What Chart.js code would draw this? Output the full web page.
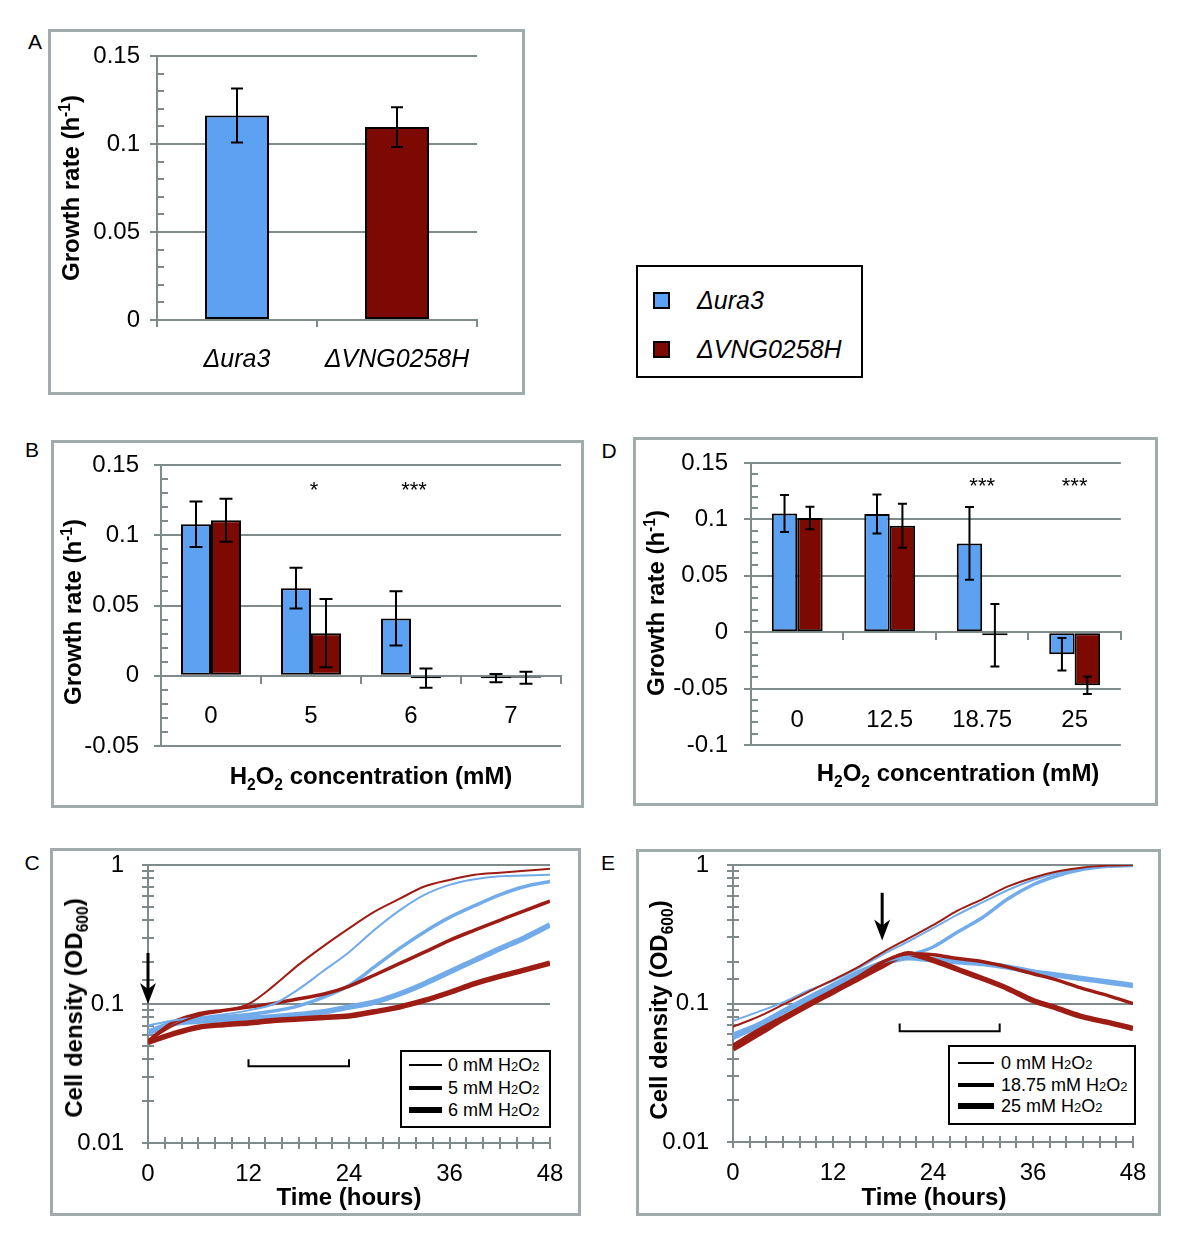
<!DOCTYPE html>
<html lang="en">
<head>
<meta charset="utf-8">
<title>Growth rate under H2O2</title>
<script src="https://cdn.jsdelivr.net/npm/chart.js@4.4.1/dist/chart.umd.min.js"></script>
<style>
  html, body { margin: 0; padding: 0; background: #fff; }
  #fig { position: relative; width: 1200px; height: 1236px; overflow: hidden;
         font-family: "Liberation Sans", Arial, sans-serif; color: #000; }
  .panel { position: absolute; box-sizing: border-box; border: 3px solid #a2abab; }
  #fig canvas { position: absolute; }
  .letter { position: absolute; font-size: 21px; line-height: 1; transform: translate(-50%, -50%); }
  .ytitle, .xtitle { position: absolute; font-weight: bold; font-size: 24px; line-height: 1; white-space: nowrap; }
  .ytitle { transform: translate(-50%, -50%) rotate(-90deg); }
  .xtitle { transform: translate(-50%, -50%); }
  sup, sub { font-size: 0.65em; line-height: 0; }
  .legbox { position: absolute; box-sizing: border-box; border: 2px solid #000; background: #fff; }
  .sw { position: absolute; background: #000; }
  .sq { position: absolute; box-sizing: border-box; border: 2px solid #000; width: 17px; height: 17px; }
  .lt { position: absolute; font-size: 18px; line-height: 1; white-space: nowrap; transform: translateY(-50%); }
  .lt small { font-size: 0.72em; }
  .mt { position: absolute; font-size: 25px; font-style: italic; line-height: 1; white-space: nowrap; transform: translateY(-50%); }
</style>
</head>
<body>
<div id="fig">
  <div class="panel" style="left:48px;top:29px;width:477px;height:366px"></div>
  <div class="panel" style="left:51px;top:440px;width:533px;height:368px"></div>
  <div class="panel" style="left:633px;top:437px;width:525px;height:369px"></div>
  <div class="panel" style="left:50px;top:848px;width:531px;height:368px"></div>
  <div class="panel" style="left:636px;top:849px;width:525px;height:367px"></div>

  <!-- canvases start 20px above their panels so the top tick label has room -->
  <canvas id="chartA" width="477" height="386" style="left:48px;top:9px"></canvas>
  <canvas id="chartB" width="533" height="388" style="left:51px;top:420px"></canvas>
  <canvas id="chartD" width="525" height="389" style="left:633px;top:417px"></canvas>
  <canvas id="chartC" width="531" height="388" style="left:50px;top:828px"></canvas>
  <canvas id="chartE" width="525" height="387" style="left:636px;top:829px"></canvas>

  <div class="letter" style="left:35px;top:41px">A</div>
  <div class="letter" style="left:32px;top:449px">B</div>
  <div class="letter" style="left:609px;top:450px">D</div>
  <div class="letter" style="left:32px;top:862px">C</div>
  <div class="letter" style="left:608px;top:862px">E</div>

  <div class="ytitle" style="left:71px;top:188px">Growth rate (h<sup>-1</sup>)</div>
  <div class="ytitle" style="left:73px;top:612px">Growth rate (h<sup>-1</sup>)</div>
  <div class="ytitle" style="left:656px;top:603px">Growth rate (h<sup>-1</sup>)</div>
  <div class="ytitle" style="left:74px;top:1008px">Cell density (OD<sub>600</sub>)</div>
  <div class="ytitle" style="left:659px;top:1010px">Cell density (OD<sub>600</sub>)</div>

  <div class="xtitle" style="left:371px;top:776px">H<sub>2</sub>O<sub>2</sub> concentration (mM)</div>
  <div class="xtitle" style="left:958px;top:773px">H<sub>2</sub>O<sub>2</sub> concentration (mM)</div>
  <div class="xtitle" style="left:349px;top:1197px">Time (hours)</div>
  <div class="xtitle" style="left:934px;top:1197px">Time (hours)</div>

  <!-- strain legend -->
  <div class="legbox" style="left:636px;top:265px;width:227px;height:113px"></div>
  <div class="sq" style="left:653px;top:292px;background:#5da1f3"></div>
  <div class="sq" style="left:653px;top:341px;background:#7d0a02"></div>
  <div class="mt" style="left:697px;top:300px">Δura3</div>
  <div class="mt" style="left:697px;top:349px">ΔVNG0258H</div>

  <!-- line width legends -->
  <div class="legbox" style="left:400px;top:1050px;width:151px;height:78px"></div>
  <div class="sw" style="left:409px;top:1064px;width:33px;height:2px"></div>
  <div class="sw" style="left:409px;top:1086px;width:33px;height:4px"></div>
  <div class="sw" style="left:409px;top:1107px;width:33px;height:6px"></div>
  <div class="lt" style="left:448px;top:1065px">0 mM H<small>2</small>O<small>2</small></div>
  <div class="lt" style="left:448px;top:1088px">5 mM H<small>2</small>O<small>2</small></div>
  <div class="lt" style="left:448px;top:1110px">6 mM H<small>2</small>O<small>2</small></div>

  <div class="legbox" style="left:948px;top:1045px;width:188px;height:80px"></div>
  <div class="sw" style="left:958px;top:1062px;width:36px;height:2px"></div>
  <div class="sw" style="left:958px;top:1083px;width:36px;height:4px"></div>
  <div class="sw" style="left:958px;top:1103px;width:36px;height:6px"></div>
  <div class="lt" style="left:1001px;top:1063px">0 mM H<small>2</small>O<small>2</small></div>
  <div class="lt" style="left:1001px;top:1085px">18.75 mM H<small>2</small>O<small>2</small></div>
  <div class="lt" style="left:1001px;top:1106px">25 mM H<small>2</small>O<small>2</small></div>
</div>

<script>
// panel A: growth rate without stress
const strainNames = ["Δura3", "ΔVNG0258H"];
const rateA = [0.1162, 0.1096];
const errA = [0.0153, 0.0113];

// panel B: growth rate vs H2O2 (mM)
const concB = ["0", "5", "6", "7"];
const ura3B = [0.1078, 0.0623, 0.0408, -0.0017];
const ura3ErrB = [0.0162, 0.0145, 0.0193, 0.0030];
const vngB = [0.1107, 0.0303, -0.0017, -0.0014];
const vngErrB = [0.0153, 0.0243, 0.0069, 0.0043];
const sigB = ["", "*", "***", ""];

// panel D
const concD = ["0", "12.5", "18.75", "25"];
const ura3D = [0.1053, 0.1047, 0.0787, -0.0195];
const ura3ErrD = [0.0164, 0.0173, 0.0322, 0.0144];
const vngD = [0.1012, 0.0944, -0.0027, -0.0470];
const vngErrD = [0.0100, 0.0195, 0.0276, 0.0078];
const sigD = ["", "", "***", "***"];

// panels C and E: OD600 every 3 h
const hours = [0, 3, 6, 9, 12, 15, 18, 21, 24, 27, 30, 33, 36, 39, 42, 45, 48];

const ura3C0 = [0.070, 0.076, 0.080, 0.084, 0.090, 0.100, 0.128, 0.174, 0.236, 0.34, 0.47, 0.61, 0.72, 0.79, 0.83, 0.84, 0.85];
const ura3C5 = [0.064, 0.074, 0.078, 0.081, 0.084, 0.089, 0.097, 0.112, 0.136, 0.184, 0.25, 0.33, 0.42, 0.51, 0.61, 0.70, 0.76];
const ura3C6 = [0.062, 0.072, 0.075, 0.077, 0.079, 0.081, 0.084, 0.088, 0.095, 0.103, 0.118, 0.14, 0.17, 0.206, 0.25, 0.30, 0.37];
const vngC0 = [0.054, 0.070, 0.082, 0.089, 0.100, 0.135, 0.192, 0.262, 0.35, 0.46, 0.57, 0.70, 0.78, 0.85, 0.88, 0.91, 0.94];
const vngC5 = [0.054, 0.074, 0.085, 0.090, 0.095, 0.101, 0.109, 0.118, 0.134, 0.161, 0.195, 0.236, 0.287, 0.34, 0.40, 0.47, 0.55];
const vngC6 = [0.053, 0.061, 0.068, 0.071, 0.073, 0.076, 0.078, 0.080, 0.082, 0.088, 0.095, 0.106, 0.121, 0.14, 0.158, 0.176, 0.197];

const ura3E0 = [0.075, 0.087, 0.102, 0.124, 0.146, 0.179, 0.226, 0.28, 0.35, 0.44, 0.54, 0.66, 0.78, 0.88, 0.94, 0.98, 0.99];
const ura3E18 = [0.060, 0.071, 0.089, 0.111, 0.137, 0.169, 0.200, 0.222, 0.256, 0.33, 0.42, 0.57, 0.72, 0.84, 0.93, 0.98, 0.99];
const ura3E25 = [0.057, 0.069, 0.087, 0.108, 0.133, 0.164, 0.194, 0.214, 0.207, 0.200, 0.194, 0.183, 0.169, 0.160, 0.151, 0.143, 0.135];
const vngE0 = [0.068, 0.080, 0.098, 0.121, 0.148, 0.183, 0.235, 0.294, 0.368, 0.47, 0.57, 0.70, 0.81, 0.90, 0.96, 0.99, 1.0];
const vngE18 = [0.050, 0.064, 0.080, 0.100, 0.124, 0.155, 0.200, 0.229, 0.225, 0.211, 0.200, 0.183, 0.164, 0.147, 0.128, 0.114, 0.100];
const vngE25 = [0.047, 0.060, 0.077, 0.097, 0.121, 0.151, 0.188, 0.229, 0.205, 0.176, 0.151, 0.128, 0.105, 0.092, 0.080, 0.073, 0.066];

const GRID = "#7f8b8b";
const BLUE_BAR = "#5da1f3";
const RED_BAR = "#7d0a02";
const BLUE_LINE = "#72abe9";
const RED_LINE = "#9d1d15";
const CLEAR = "rgba(0,0,0,0)";

Chart.defaults.font.family = '"Liberation Sans", Arial, sans-serif';
Chart.defaults.font.size = 24;
Chart.defaults.color = "#000";

function isMajor(v) {
  return Math.round(v * 100) % 5 === 0;
}

function isDecade(v) {
  const l = Math.log10(v);
  return Math.abs(l - Math.round(l)) < 1e-6;
}

function fmt(v) {
  return String(Math.round(v * 100) / 100);
}

const errorBars = {
  id: "errorBars",
  afterDatasetsDraw(chart, args, opts) {
    const ctx = chart.ctx;
    const y = chart.scales.y;
    const half = opts.cap / 2;
    chart.data.datasets.forEach((ds, i) => {
      if (!ds.errors) return;
      chart.getDatasetMeta(i).data.forEach((bar, j) => {
        const top = y.getPixelForValue(ds.data[j] + ds.errors[j]);
        const bot = y.getPixelForValue(ds.data[j] - ds.errors[j]);
        ctx.save();
        ctx.strokeStyle = "#000";
        ctx.lineWidth = 2;
        ctx.beginPath();
        ctx.moveTo(bar.x, top);
        ctx.lineTo(bar.x, bot);
        ctx.moveTo(bar.x - half, top);
        ctx.lineTo(bar.x + half, top);
        ctx.moveTo(bar.x - half, bot);
        ctx.lineTo(bar.x + half, bot);
        ctx.stroke();
        ctx.restore();
      });
    });
  }
};

// tick marks that sit inside the plot area
const innerTicks = {
  id: "innerTicks",
  beforeDatasetsDraw(chart, args, opts) {
    const { ctx, chartArea: a, scales: { x, y } } = chart;
    ctx.save();
    ctx.strokeStyle = GRID;
    ctx.lineWidth = 2;
    ctx.beginPath();
    y.ticks.forEach((t) => {
      if (opts.mode === "minor" && isMajor(t.value)) return;
      const py = Math.round(y.getPixelForValue(t.value));
      ctx.moveTo(a.left, py);
      ctx.lineTo(a.left + opts.len, py);
    });
    if (opts.mode === "all") {
      x.ticks.forEach((t) => {
        const px = Math.round(x.getPixelForValue(t.value));
        ctx.moveTo(px, a.bottom);
        ctx.lineTo(px, a.bottom - opts.len);
      });
    }
    ctx.stroke();
    ctx.restore();
  }
};

const stars = {
  id: "stars",
  afterDatasetsDraw(chart, args, opts) {
    if (!opts.labels) return;
    const { ctx, scales: { x, y } } = chart;
    ctx.save();
    ctx.font = '22px "Liberation Sans", Arial, sans-serif';
    ctx.textAlign = "center";
    ctx.textBaseline = "alphabetic";
    ctx.fillStyle = "#000";
    opts.labels.forEach((s, i) => {
      if (s) ctx.fillText(s, x.getPixelForValue(i) + opts.shift, y.getPixelForValue(opts.level));
    });
    ctx.restore();
  }
};

const marks = {
  id: "marks",
  afterDatasetsDraw(chart, args, opts) {
    const { ctx, scales: { x, y } } = chart;
    ctx.save();
    ctx.strokeStyle = "#000";
    ctx.fillStyle = "#000";
    if (opts.arrow) {
      const ax = x.getPixelForValue(opts.arrow.x);
      const y1 = y.getPixelForValue(opts.arrow.from);
      const y2 = y.getPixelForValue(opts.arrow.to);
      ctx.lineWidth = 3;
      ctx.beginPath();
      ctx.moveTo(ax, y1);
      ctx.lineTo(ax, y2 - 12);
      ctx.stroke();
      ctx.beginPath();
      ctx.moveTo(ax, y2);
      ctx.lineTo(ax - 8, y2 - 21);
      ctx.lineTo(ax, y2 - 15);
      ctx.lineTo(ax + 8, y2 - 21);
      ctx.closePath();
      ctx.fill();
    }
    if (opts.bracket) {
      const b = opts.bracket;
      const x1 = x.getPixelForValue(b.from);
      const x2 = x.getPixelForValue(b.to);
      const yb = y.getPixelForValue(b.level);
      const yt = y.getPixelForValue(b.tip);
      ctx.lineWidth = 2;
      ctx.beginPath();
      ctx.moveTo(x1, yt);
      ctx.lineTo(x1, yb);
      ctx.lineTo(x2, yb);
      ctx.lineTo(x2, yt);
      ctx.stroke();
    }
    ctx.restore();
  }
};

function rateAxis(min, max, width, pad) {
  return {
    min: min,
    max: max,
    afterFit: (s) => { s.width = width; },
    border: { color: GRID, width: 2 },
    grid: {
      color: (c) => (c.tick && isMajor(c.tick.value) ? GRID : CLEAR),
      tickColor: (c) => (c.tick && isMajor(c.tick.value) ? GRID : CLEAR),
      lineWidth: 2,
      tickLength: 7
    },
    ticks: {
      stepSize: 0.01,
      autoSkip: false,
      padding: pad,
      callback: (v) => (isMajor(v) ? fmt(v) : "")
    }
  };
}

function categoryAxis(position, height, pad, italic) {
  return {
    position: position,
    afterFit: (s) => { s.height = height; },
    border: { color: GRID, width: 2 },
    grid: { drawOnChartArea: false, color: GRID, tickColor: GRID, lineWidth: 2, tickLength: 7, offset: true },
    ticks: {
      padding: pad,
      maxRotation: 0,
      autoSkip: false,
      font: italic ? { size: 25, style: "italic" } : { size: 24 }
    }
  };
}

function barDataset(data, errors, color, cat, bar) {
  return {
    data: data,
    errors: errors,
    backgroundColor: color,
    borderColor: "#000",
    borderWidth: 2,
    borderSkipped: false,
    categoryPercentage: cat,
    barPercentage: bar
  };
}

function barOptions(padding, yAxis, xAxis, cap, starOpts) {
  return {
    responsive: false,
    animation: false,
    layout: { padding: padding },
    plugins: {
      legend: { display: false },
      tooltip: { enabled: false },
      errorBars: { cap: cap },
      innerTicks: { mode: "minor", len: 7 },
      stars: starOpts
    },
    scales: { x: xAxis, y: yAxis }
  };
}

new Chart(document.getElementById("chartA"), {
  type: "bar",
  data: {
    labels: strainNames,
    datasets: [barDataset(rateA, errA, [BLUE_BAR, RED_BAR], 0.8, 0.5)]
  },
  options: barOptions(
    { left: 0, top: 47, right: 48, bottom: 0 },
    rateAxis(0, 0.15, 109, 10),
    categoryAxis("bottom", 75, 18, true),
    12,
    {}
  ),
  plugins: [innerTicks, errorBars, stars]
});

new Chart(document.getElementById("chartB"), {
  type: "bar",
  data: {
    labels: concB,
    datasets: [
      barDataset(ura3B, ura3ErrB, BLUE_BAR, 0.6, 1.0),
      barDataset(vngB, vngErrB, RED_BAR, 0.6, 1.0)
    ]
  },
  options: barOptions(
    { left: 0, top: 45, right: 23, bottom: 62 },
    rateAxis(-0.05, 0.15, 110, 15),
    categoryAxis({ y: 0 }, 0, 19, false),
    13,
    { labels: sigB, level: 0.127, shift: 3 }
  ),
  plugins: [innerTicks, errorBars, stars]
});

new Chart(document.getElementById("chartD"), {
  type: "bar",
  data: {
    labels: concD,
    datasets: [
      barDataset(ura3D, ura3ErrD, BLUE_BAR, 0.55, 1.0),
      barDataset(vngD, vngErrD, RED_BAR, 0.55, 1.0)
    ]
  },
  options: barOptions(
    { left: 0, top: 46, right: 24, bottom: 61 },
    rateAxis(-0.1, 0.15, 118, 16),
    categoryAxis({ y: 0 }, 0, 67, false),
    9,
    { labels: sigD, level: 0.123, shift: 0 }
  ),
  plugins: [innerTicks, errorBars, stars]
});

function curve(data, color, width) {
  return {
    data: data,
    borderColor: color,
    borderWidth: width,
    pointRadius: 0,
    cubicInterpolationMode: "monotone",
    fill: false
  };
}

function densityOptions(yWidth, padTop, padRight, xHeight, markOpts) {
  return {
    responsive: false,
    animation: false,
    layout: { padding: { left: 0, top: padTop, right: padRight, bottom: 0 } },
    plugins: {
      legend: { display: false },
      tooltip: { enabled: false },
      innerTicks: { mode: "all", len: 6 },
      marks: markOpts
    },
    scales: {
      x: {
        type: "linear",
        min: 0,
        max: 48,
        afterFit: (s) => { s.height = xHeight; },
        border: { color: GRID, width: 2 },
        grid: { drawOnChartArea: false, color: GRID, tickColor: GRID, lineWidth: 2, tickLength: 6 },
        ticks: {
          stepSize: 2,
          autoSkip: false,
          maxRotation: 0,
          padding: 11,
          callback: (v) => (v % 12 === 0 ? String(v) : "")
        }
      },
      y: {
        type: "logarithmic",
        min: 0.01,
        max: 1,
        afterFit: (s) => { s.width = yWidth; },
        border: { color: GRID, width: 2 },
        grid: {
          color: (c) => (c.tick && isDecade(c.tick.value) ? GRID : CLEAR),
          tickColor: GRID,
          lineWidth: 2,
          tickLength: 6
        },
        ticks: {
          autoSkip: false,
          padding: 18,
          callback: (v) => (isDecade(v) ? String(v) : "")
        }
      }
    }
  };
}

new Chart(document.getElementById("chartC"), {
  type: "line",
  data: {
    labels: hours,
    datasets: [
      curve(vngC0, RED_LINE, 2),
      curve(ura3C0, BLUE_LINE, 2),
      curve(vngC5, RED_LINE, 3.5),
      curve(ura3C5, BLUE_LINE, 3.5),
      curve(vngC6, RED_LINE, 5.5),
      curve(ura3C6, BLUE_LINE, 5.5)
    ]
  },
  options: densityOptions(98, 37, 31, 73, {
    arrow: { x: 0, from: 0.233, to: 0.1 },
    bracket: { from: 12, to: 24, level: 0.0356, tip: 0.040 }
  }),
  plugins: [innerTicks, marks]
});

new Chart(document.getElementById("chartE"), {
  type: "line",
  data: {
    labels: hours,
    datasets: [
      curve(vngE0, RED_LINE, 2),
      curve(ura3E0, BLUE_LINE, 2),
      curve(vngE18, RED_LINE, 3.5),
      curve(ura3E18, BLUE_LINE, 3.5),
      curve(vngE25, RED_LINE, 5.5),
      curve(ura3E25, BLUE_LINE, 5.5)
    ]
  },
  options: densityOptions(97, 36, 28, 74, {
    arrow: { x: 17.9, from: 0.63, to: 0.285 },
    bracket: { from: 20, to: 32, level: 0.063, tip: 0.0717 }
  }),
  plugins: [innerTicks, marks]
});
</script>
</body>
</html>
